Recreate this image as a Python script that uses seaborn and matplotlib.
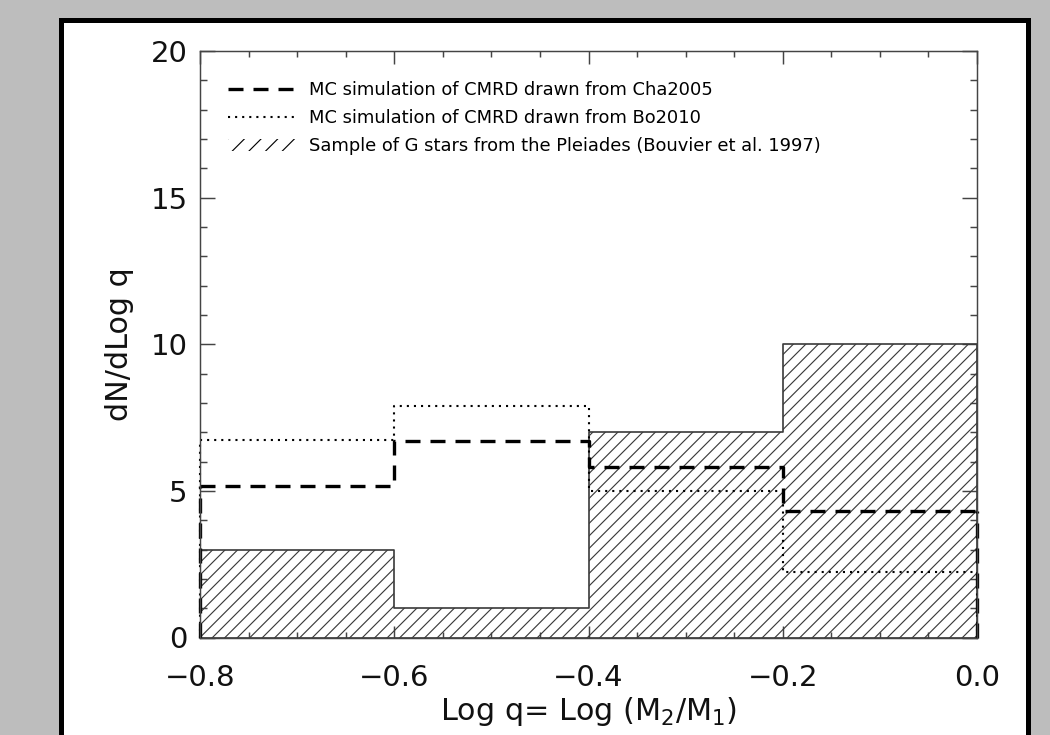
import numpy as np
import pandas as pd
import matplotlib
matplotlib.use('Agg')
import matplotlib.pyplot as plt
import seaborn as sns
from matplotlib.lines import Line2D
from matplotlib.patches import Patch, Rectangle
from matplotlib.ticker import MultipleLocator

# histogram bins in log q and heights (dN/dLog q)
bin_edges = [-0.8, -0.6, -0.4, -0.2, 0.0]
pleiades = [3.0, 1.0, 7.0, 10.0]
cha2005 = [5.15, 6.7, 5.8, 4.3]
bo2010 = [6.75, 7.9, 5.0, 2.25]

legend_labels = [
    'MC simulation of CMRD drawn from Cha2005',
    'MC simulation of CMRD drawn from Bo2010',
    'Sample of G stars from the Pleiades (Bouvier et al. 1997)',
]

sns.set_style('ticks')
plt.rcParams['font.family'] = ['DejaVu Sans']
plt.rcParams['mathtext.default'] = 'regular'
plt.rcParams['hatch.linewidth'] = 0.55

edges = np.array(bin_edges)
hist = pd.DataFrame({
    'logq': (edges[:-1] + edges[1:]) / 2,
    'pleiades': pleiades,
    'cha2005': cha2005,
    'bo2010': bo2010,
})

dash = (0, (4.5, 3))
dots = (0, (1, 2.4))

fig = plt.figure(figsize=(7, 4.9), dpi=150, facecolor='#bdbdbd')
# white slide panel with thick black border, behind the axes
fig.patches.append(Rectangle(
    (60.5 / 1050, -0.1), 967 / 1050, 1.1 - 20.5 / 735,
    transform=fig.transFigure, facecolor='white', edgecolor='black',
    linewidth=2.4, zorder=-5))
ax = fig.add_axes([200 / 1050, 1 - 637.5 / 735, 777 / 1050, 586.5 / 735])

sns.histplot(data=hist, x='logq', weights='pleiades', bins=bin_edges, element='step', fill=True,
             facecolor=(1, 1, 1, 0), edgecolor='#3a3a3a', hatch='////', linewidth=0.8, ax=ax)
sns.histplot(data=hist, x='logq', weights='bo2010', bins=bin_edges, element='step', fill=False,
             color='black', linestyle=dots, linewidth=1.0, ax=ax)
sns.histplot(data=hist, x='logq', weights='cha2005', bins=bin_edges, element='step', fill=False,
             color='black', linestyle=dash, linewidth=1.6, ax=ax)
# drop the unfilled step outlines down to zero at both ends
ax.vlines([edges[0], edges[-1]], 0, [bo2010[0], bo2010[-1]], colors='black',
          linestyles=dots, linewidth=1.0, clip_on=False)
ax.vlines([edges[0], edges[-1]], 0, [cha2005[0], cha2005[-1]], colors='black',
          linestyles=dash, linewidth=1.6, clip_on=False)

ax.set_xlim(-0.8, 0.0)
ax.set_ylim(0, 20)
ax.xaxis.set_major_locator(MultipleLocator(0.2))
ax.xaxis.set_minor_locator(MultipleLocator(0.05))
ax.yaxis.set_major_locator(MultipleLocator(5))
ax.yaxis.set_minor_locator(MultipleLocator(1))
ax.tick_params(which='both', direction='in', top=True, right=True,
               color='#444444', width=0.7, labelsize=14, labelcolor='#111111')
ax.tick_params(axis='x', which='major', length=6, pad=12.5)
ax.tick_params(axis='x', which='minor', length=2.9)
ax.tick_params(axis='y', which='major', length=7.2, pad=6)
ax.tick_params(axis='y', which='minor', length=3.5)
for sp in ax.spines.values():
    sp.set_color('#444444')
    sp.set_linewidth(0.7)

ax.set_xlabel('Log q= Log (M$_2$/M$_1$)', fontsize=14.5, labelpad=1.5, color='#111111')
ax.set_ylabel('dN/dLog q', fontsize=14.5, labelpad=8, color='#111111')

handles = [
    Line2D([], [], color='black', lw=1.6, ls=dash),
    Line2D([], [], color='black', lw=1.0, ls=dots),
    Patch(facecolor='none', edgecolor='black', linewidth=0, hatch='///'),
]
ax.legend(handles, legend_labels, loc='upper left', bbox_to_anchor=(0.036, 0.949),
          frameon=False, fontsize=8.6, handlelength=3.9, handletextpad=0.6,
          labelspacing=0.57, borderpad=0, borderaxespad=0, labelcolor='black')

fig.savefig('out.png', dpi=150, facecolor=fig.get_facecolor())
